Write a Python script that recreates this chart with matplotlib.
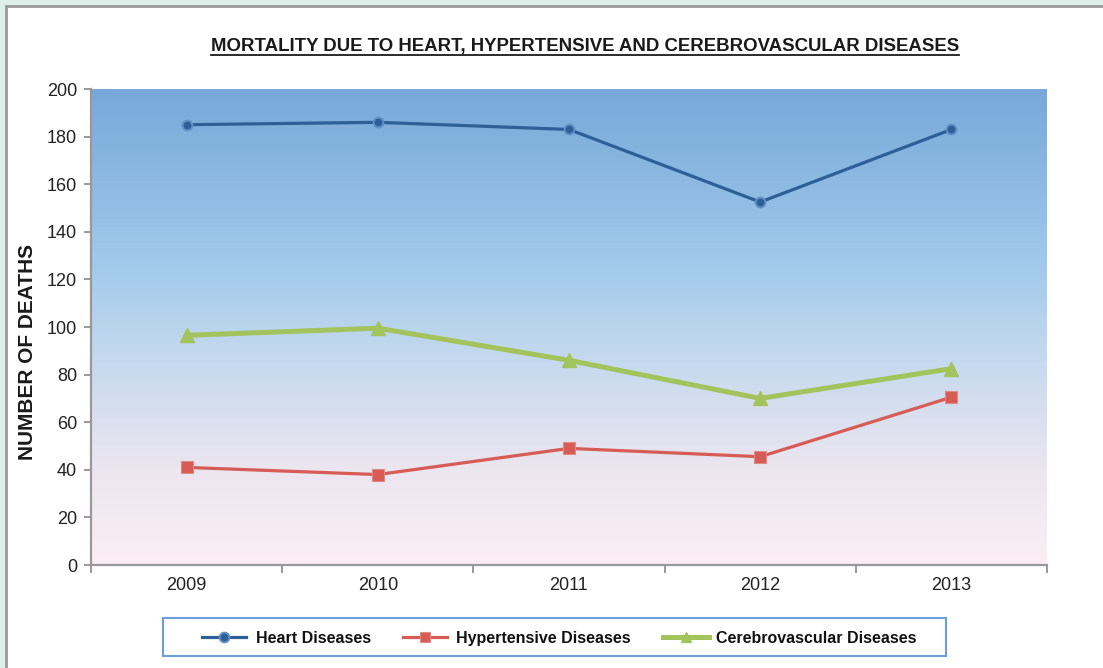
import numpy as np
import matplotlib.pyplot as plt
from matplotlib.colors import LinearSegmentedColormap
from matplotlib.patches import Rectangle
from matplotlib.lines import Line2D

years = ["2009", "2010", "2011", "2012", "2013"]
heart = [185, 186, 183, 152.5, 183]
hypertensive = [41, 38, 49, 45.5, 70.5]
cerebro = [96.5, 99.5, 86, 70, 82.5]
yticks = [0, 20, 40, 60, 80, 100, 120, 140, 160, 180, 200]
series_names = ["Heart Diseases", "Hypertensive Diseases", "Cerebrovascular Diseases"]

plt.rcParams['font.family'] = ['Liberation Sans', 'DejaVu Sans']

W, H = 1103, 668
fig = plt.figure(figsize=(W / 100, H / 100), dpi=100)
fig.patch.set_facecolor('#e0eeea')

# white panel with grey frame on top/left
panel = Rectangle((6 / W, -0.05), 1.2, (H - 6) / H + 0.05, transform=fig.transFigure,
                  facecolor='white', edgecolor='#999999', linewidth=2.0, zorder=-5)
fig.add_artist(panel)

ax = fig.add_axes([91 / W, 1 - 565 / H, (1047 - 91) / W, (565 - 89) / H])
ax.set_facecolor('none')
ax.set_zorder(2)

x = np.arange(len(years))
ax.set_xlim(-0.5, len(years) - 0.5)
ax.set_ylim(0, 200)

# gradient background
cmap = LinearSegmentedColormap.from_list('bg', [
    (0.0, '#fbeef4'),
    (0.2, '#ece6f0'),
    (0.45, '#c2d8ee'),
    (0.65, '#9fc8ea'),
    (1.0, '#77a8d9'),
])
grad = np.linspace(0, 1, 256).reshape(-1, 1)
ax.imshow(grad, cmap=cmap, origin='lower', aspect='auto',
          extent=(-0.5, len(years) - 0.5, 0, 200), zorder=0)

styles = [
    dict(color='#2e5f96', lw=2.3, marker='o', ms=7, mfc='#2e5f96', mec='#5f8fc4', mew=1.4),
    dict(color='#d65c55', lw=2.3, marker='s', ms=8.5, mfc='#d65c55', mec='#e08a85', mew=0.8),
    dict(color='#a3c35c', lw=3.6, marker='^', ms=10, mfc='#a3c35c', mec='#a3c35c', mew=1.0),
]
for vals, st, name in zip([heart, hypertensive, cerebro], styles, series_names):
    ax.plot(x, vals, zorder=3, label=name, **st)

for s in ['top', 'right']:
    ax.spines[s].set_visible(False)
for s in ['left', 'bottom']:
    ax.spines[s].set_color('#999999')
    ax.spines[s].set_linewidth(1.6)

ax.set_yticks(yticks)
ax.set_yticklabels([str(v) for v in yticks], fontsize=13, color='#222222')
ax.set_xticks(x)
ax.set_xticklabels(years, fontsize=13, color='#222222')
ax.tick_params(axis='x', length=0, pad=9)
ax.set_xticks(np.arange(-0.5, len(years), 1.0), minor=True)
ax.tick_params(axis='x', which='minor', length=6, color='#999999', width=1.4)
ax.tick_params(axis='y', length=5, color='#999999', width=1.4, pad=5)

fig.text(28 / W, 1 - 352 / H, 'NUMBER OF DEATHS', rotation=90, fontsize=15,
         fontweight='bold', ha='center', va='center', color='#1a1a1a')

t = fig.text(585 / W, 1 - 46 / H, 'MORTALITY DUE TO HEART, HYPERTENSIVE AND CEREBROVASCULAR DISEASES',
             fontsize=13.4, fontweight='bold', ha='center', va='center', color='#1a1a1a')
fig.canvas.draw()
bb = t.get_window_extent(renderer=fig.canvas.get_renderer())
inv = fig.transFigure.inverted()
(x0, y0), (x1, y1) = inv.transform([(bb.x0, bb.y0), (bb.x1, bb.y1)])
fig.lines.append(Line2D([x0, x1], [y0 - 1.0 / H, y0 - 1.0 / H], transform=fig.transFigure,
                        color='#1a1a1a', lw=1.3))

# legend (frame + keys + labels)
frame = Rectangle((163 / W, 1 - 656 / H), (946 - 163) / W, (656 - 618) / H,
                  transform=fig.transFigure, facecolor='white', edgecolor='#6d9edb',
                  linewidth=1.5, zorder=1)
fig.add_artist(frame)
key_spans = [(202, 246), (403, 447), (663, 709)]
text_x = [256, 456, 716]
yk = 1 - 637 / H
for (ka, kb), tx, st, name in zip(key_spans, text_x, styles, series_names):
    st2 = dict(st)
    ms = min(st2.pop('ms'), 7)
    ln = Line2D([ka / W, kb / W], [yk, yk], transform=fig.transFigure, ms=ms,
                markevery=[], zorder=2, **{k: v for k, v in st2.items() if k != 'marker'})
    ln.set_marker('None')
    fig.add_artist(ln)
    mk = Line2D([(ka + kb) / 2 / W], [yk], transform=fig.transFigure, ls='none',
                marker=st['marker'], ms=ms, mfc=st['mfc'], mec=st['mec'], mew=st['mew'], zorder=3)
    fig.add_artist(mk)
    fig.text(tx / W, 1 - 643 / H, name, fontsize=11.5, fontweight='bold',
             ha='left', va='baseline', color='#111111', zorder=3)

fig.savefig('out.png', dpi=100)
